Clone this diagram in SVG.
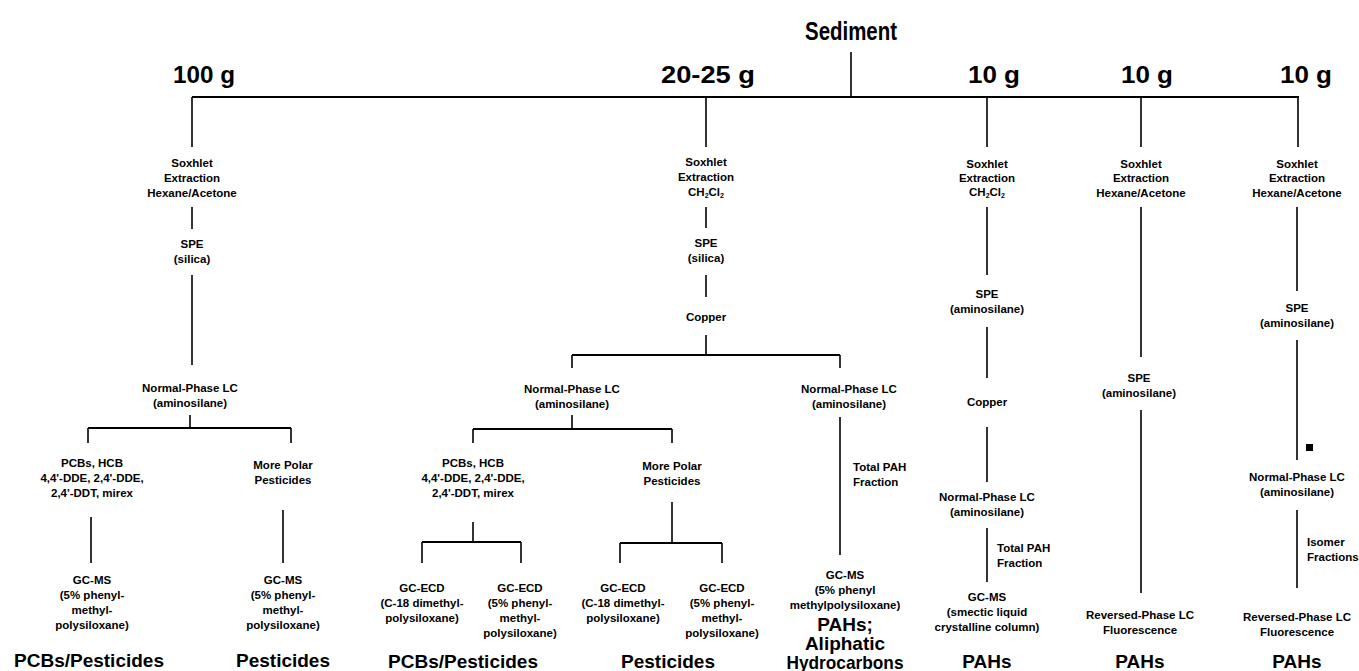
<svg xmlns="http://www.w3.org/2000/svg" width="1359" height="671" viewBox="0 0 1359 671">
<style>
text{font-family:"Liberation Sans",Arial,Helvetica,sans-serif;font-weight:bold;fill:#000;text-anchor:middle}
.s{font-size:11.5px}
.l{text-anchor:start}
.big{font-size:19px}
.hd{font-size:23.5px}
.ti{font-size:26px}
.sub{font-size:7px}
#connectors line{stroke:#000;stroke-width:1.6;fill:none}
#connectors .bar{stroke-width:2}
</style>
<rect width="1359" height="671" fill="#fff"/>
<g id="connectors">
<line x1="851" y1="52" x2="851" y2="97"/>
<line class="bar" x1="192" y1="97" x2="1299" y2="97"/>
<line x1="192" y1="97" x2="192" y2="147"/>
<line x1="706" y1="97" x2="706" y2="147"/>
<line x1="987" y1="97" x2="987" y2="147"/>
<line x1="1141" y1="97" x2="1141" y2="147"/>
<line x1="1298" y1="97" x2="1298" y2="147"/>
<line x1="192" y1="207" x2="192" y2="229"/>
<line x1="192" y1="275" x2="192" y2="365"/>
<line x1="190" y1="415" x2="190" y2="428"/>
<line class="bar" x1="88" y1="428" x2="291" y2="428"/>
<line x1="88" y1="428" x2="88" y2="443"/>
<line x1="291" y1="428" x2="291" y2="443"/>
<line x1="91" y1="517" x2="91" y2="563"/>
<line x1="283" y1="510" x2="283" y2="563"/>
<line x1="706" y1="207" x2="706" y2="228"/>
<line x1="706" y1="275" x2="706" y2="297"/>
<line x1="706" y1="335" x2="706" y2="355"/>
<line class="bar" x1="572" y1="355" x2="840" y2="355"/>
<line x1="572" y1="355" x2="572" y2="368"/>
<line x1="840" y1="355" x2="840" y2="368"/>
<line x1="572" y1="415" x2="572" y2="429"/>
<line class="bar" x1="473" y1="429" x2="672" y2="429"/>
<line x1="473" y1="429" x2="473" y2="443"/>
<line x1="672" y1="429" x2="672" y2="443"/>
<line x1="473" y1="522" x2="473" y2="542"/>
<line class="bar" x1="422" y1="542" x2="521" y2="542"/>
<line x1="422" y1="542" x2="422" y2="563"/>
<line x1="521" y1="542" x2="521" y2="563"/>
<line x1="672" y1="502" x2="672" y2="543"/>
<line class="bar" x1="620" y1="543" x2="722" y2="543"/>
<line x1="620" y1="543" x2="620" y2="563"/>
<line x1="722" y1="543" x2="722" y2="563"/>
<line x1="840" y1="417" x2="840" y2="555"/>
<line x1="987" y1="207" x2="987" y2="275"/>
<line x1="987" y1="327" x2="987" y2="378"/>
<line x1="987" y1="427" x2="987" y2="482"/>
<line x1="987" y1="528" x2="987" y2="582"/>
<line x1="1141" y1="207" x2="1141" y2="357"/>
<line x1="1141" y1="410" x2="1141" y2="593"/>
<line x1="1297" y1="207" x2="1297" y2="291"/>
<line x1="1297" y1="340" x2="1297" y2="460"/>
<line x1="1297" y1="510" x2="1297" y2="588"/>
</g>
<g id="sediment"><text class="ti" x="851" y="40" textLength="92" lengthAdjust="spacingAndGlyphs">Sediment</text></g>
<g id="amounts">
<text class="hd" x="204" y="83" textLength="62" lengthAdjust="spacingAndGlyphs">100 g</text>
<text class="hd" x="708" y="83" textLength="94" lengthAdjust="spacingAndGlyphs">20-25 g</text>
<text class="hd" x="994" y="83" textLength="52" lengthAdjust="spacingAndGlyphs">10 g</text>
<text class="hd" x="1147" y="83" textLength="52" lengthAdjust="spacingAndGlyphs">10 g</text>
<text class="hd" x="1306" y="83" textLength="52" lengthAdjust="spacingAndGlyphs">10 g</text>
</g>
<g id="c1-soxhlet"><text class="s" x="192" y="167">Soxhlet</text><text class="s" x="192" y="182">Extraction</text><text class="s" x="192" y="197">Hexane/Acetone</text></g>
<g id="c1-spe"><text class="s" x="192" y="248">SPE</text><text class="s" x="192" y="263">(silica)</text></g>
<g id="c1-nplc"><text class="s" x="190" y="392">Normal-Phase LC</text><text class="s" x="190" y="407">(aminosilane)</text></g>
<g id="c1-pcbs"><text class="s" x="92" y="467">PCBs, HCB</text><text class="s" x="92" y="482">4,4'-DDE, 2,4'-DDE,</text><text class="s" x="92" y="497">2,4'-DDT, mirex</text></g>
<g id="c1-polar"><text class="s" x="283" y="469">More Polar</text><text class="s" x="283" y="484">Pesticides</text></g>
<g id="c1-gcms1"><text class="s" x="92" y="584">GC-MS</text><text class="s" x="92" y="599">(5% phenyl-</text><text class="s" x="92" y="614">methyl-</text><text class="s" x="92" y="629">polysiloxane)</text></g>
<g id="c1-gcms2"><text class="s" x="283" y="584">GC-MS</text><text class="s" x="283" y="599">(5% phenyl-</text><text class="s" x="283" y="614">methyl-</text><text class="s" x="283" y="629">polysiloxane)</text></g>
<g id="c1-res1"><text class="big" x="89" y="667">PCBs/Pesticides</text></g>
<g id="c1-res2"><text class="big" x="283" y="667">Pesticides</text></g>
<g id="c2-soxhlet"><text class="s" x="706" y="166">Soxhlet</text><text class="s" x="706" y="181">Extraction</text><text class="s" x="706" y="196">CH<tspan class="sub" dy="2">2</tspan><tspan dy="-2">Cl</tspan><tspan class="sub" dy="2">2</tspan></text></g>
<g id="c2-spe"><text class="s" x="706" y="247">SPE</text><text class="s" x="706" y="262">(silica)</text></g>
<g id="c2-copper"><text class="s" x="706" y="321">Copper</text></g>
<g id="c2-nplc"><text class="s" x="572" y="393">Normal-Phase LC</text><text class="s" x="572" y="408">(aminosilane)</text></g>
<g id="c2-pcbs"><text class="s" x="473" y="467">PCBs, HCB</text><text class="s" x="473" y="482">4,4'-DDE, 2,4'-DDE,</text><text class="s" x="473" y="497">2,4'-DDT, mirex</text></g>
<g id="c2-polar"><text class="s" x="672" y="470">More Polar</text><text class="s" x="672" y="485">Pesticides</text></g>
<g id="c2-ecd1"><text class="s" x="422" y="592">GC-ECD</text><text class="s" x="422" y="607">(C-18 dimethyl-</text><text class="s" x="422" y="622">polysiloxane)</text></g>
<g id="c2-ecd2"><text class="s" x="520" y="592">GC-ECD</text><text class="s" x="520" y="607">(5% phenyl-</text><text class="s" x="520" y="622">methyl-</text><text class="s" x="520" y="637">polysiloxane)</text></g>
<g id="c2-ecd3"><text class="s" x="623" y="592">GC-ECD</text><text class="s" x="623" y="607">(C-18 dimethyl-</text><text class="s" x="623" y="622">polysiloxane)</text></g>
<g id="c2-ecd4"><text class="s" x="722" y="592">GC-ECD</text><text class="s" x="722" y="607">(5% phenyl-</text><text class="s" x="722" y="622">methyl-</text><text class="s" x="722" y="637">polysiloxane)</text></g>
<g id="c2-res1"><text class="big" x="463" y="668">PCBs/Pesticides</text></g>
<g id="c2-res2"><text class="big" x="668" y="668">Pesticides</text></g>
<g id="c2b-nplc"><text class="s" x="849" y="393">Normal-Phase LC</text><text class="s" x="849" y="408">(aminosilane)</text></g>
<g id="c2b-frac"><text class="s l" x="853" y="471">Total PAH</text><text class="s l" x="853" y="486">Fraction</text></g>
<g id="c2b-gcms"><text class="s" x="845" y="579">GC-MS</text><text class="s" x="845" y="594">(5% phenyl</text><text class="s" x="845" y="609">methylpolysiloxane)</text></g>
<g id="c2b-res"><text class="big" x="845" y="631">PAHs;</text><text class="big" x="845" y="650">Aliphatic</text><text class="big" x="845" y="669" textLength="117" lengthAdjust="spacingAndGlyphs">Hydrocarbons</text></g>
<g id="c3-soxhlet"><text class="s" x="987" y="168">Soxhlet</text><text class="s" x="987" y="182">Extraction</text><text class="s" x="987" y="196">CH<tspan class="sub" dy="2">2</tspan><tspan dy="-2">Cl</tspan><tspan class="sub" dy="2">2</tspan></text></g>
<g id="c3-spe"><text class="s" x="987" y="298">SPE</text><text class="s" x="987" y="313">(aminosilane)</text></g>
<g id="c3-copper"><text class="s" x="987" y="406">Copper</text></g>
<g id="c3-nplc"><text class="s" x="987" y="501">Normal-Phase LC</text><text class="s" x="987" y="516">(aminosilane)</text></g>
<g id="c3-frac"><text class="s l" x="997" y="552">Total PAH</text><text class="s l" x="997" y="567">Fraction</text></g>
<g id="c3-gcms"><text class="s" x="987" y="601">GC-MS</text><text class="s" x="987" y="616">(smectic liquid</text><text class="s" x="987" y="631">crystalline column)</text></g>
<g id="c3-res"><text class="big" x="987" y="668">PAHs</text></g>
<g id="c4-soxhlet"><text class="s" x="1141" y="168">Soxhlet</text><text class="s" x="1141" y="182">Extraction</text><text class="s" x="1141" y="197">Hexane/Acetone</text></g>
<g id="c4-spe"><text class="s" x="1139" y="382">SPE</text><text class="s" x="1139" y="397">(aminosilane)</text></g>
<g id="c4-rplc"><text class="s" x="1140" y="619">Reversed-Phase LC</text><text class="s" x="1140" y="634">Fluorescence</text></g>
<g id="c4-res"><text class="big" x="1140" y="668">PAHs</text></g>
<g id="c5-soxhlet"><text class="s" x="1297" y="168">Soxhlet</text><text class="s" x="1297" y="182">Extraction</text><text class="s" x="1297" y="197">Hexane/Acetone</text></g>
<g id="c5-spe"><text class="s" x="1297" y="312">SPE</text><text class="s" x="1297" y="327">(aminosilane)</text></g>
<g id="c5-mark"><rect x="1306" y="444" width="7" height="7" fill="#000"/></g>
<g id="c5-nplc"><text class="s" x="1297" y="481">Normal-Phase LC</text><text class="s" x="1297" y="496">(aminosilane)</text></g>
<g id="c5-frac"><text class="s l" x="1307" y="546">Isomer</text><text class="s l" x="1307" y="561">Fractions</text></g>
<g id="c5-rplc"><text class="s" x="1297" y="621">Reversed-Phase LC</text><text class="s" x="1297" y="636">Fluorescence</text></g>
<g id="c5-res"><text class="big" x="1297" y="668">PAHs</text></g>
</svg>
